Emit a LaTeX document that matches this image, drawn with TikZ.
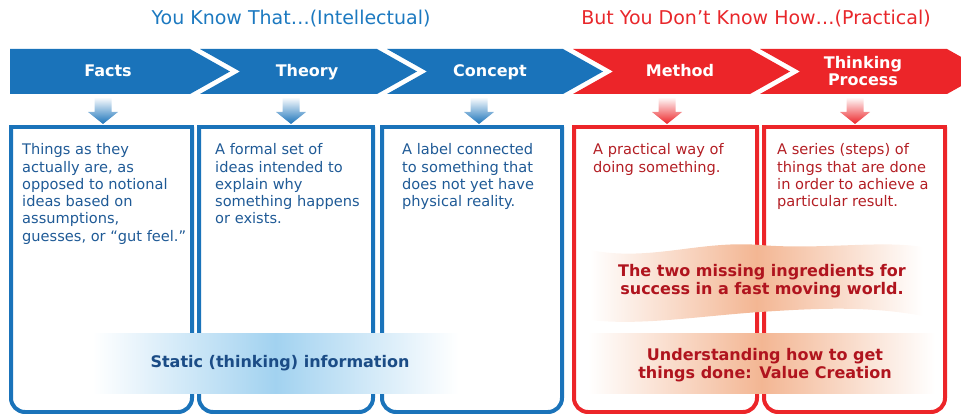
\documentclass[tikz,border=0pt]{standalone}
\usepackage{fontspec}
\setmainfont{DejaVu Sans}
\usetikzlibrary{calc}
\definecolor{chevblue}{HTML}{1A73BA}
\definecolor{chevred}{HTML}{EC2529}
\definecolor{titleblue}{HTML}{1C79C0}
\definecolor{titlered}{HTML}{E8272B}
\definecolor{txtblue}{HTML}{1F5A96}
\definecolor{txtred}{HTML}{B31E24}
\definecolor{bandblue}{HTML}{1B4C86}
\definecolor{bandred}{HTML}{B0141E}
\definecolor{lightblue}{HTML}{A2D2F0}
\definecolor{peach}{HTML}{F3B693}
\begin{document}
\begin{tikzpicture}[x=1pt,y=-1pt,
  title/.style={font=\fontsize{19}{22}\selectfont, anchor=center},
  chevlabel/.style={font=\bfseries\fontsize{16}{17}\selectfont, text=white, align=center, anchor=base},
  bodytext/.style={font=\fontsize{14.6}{17.3}\selectfont, align=left, anchor=north west, inner sep=0pt},
  bandtext/.style={font=\bfseries\fontsize{16}{17.5}\selectfont, align=center, anchor=center}
]
\useasboundingbox (0,0) rectangle (961,414);
\clip (0,0) rectangle (961,414);

\newcommand\boxpath[3]{%
  \draw[draw=#3, line width=4pt, rounded corners=14pt] (#1,127) -- (#1,412) -- (#2,412) -- (#2,127);
  \draw[draw=#3, line width=4pt, line cap=rect] (#1,127) -- (#2,127);
}

% titles
\node[title, text=titleblue] (t1) at (291,19) {You Know That…(Intellectual)};
\node[title, text=titlered] (t2) at (756,19) {But You Don’t Know How…(Practical)};

% chevrons
\fill[chevblue] (10,49) -- (190,49) -- (230,71.5) -- (190,94) -- (10,94) -- cycle;
\fill[chevblue] (200,49) -- (377,49) -- (417,71.5) -- (377,94) -- (200,94) -- (240,71.5) -- cycle;
\fill[chevblue] (387,49) -- (563,49) -- (603,71.5) -- (563,94) -- (387,94) -- (427,71.5) -- cycle;
\fill[chevred] (573,49) -- (750,49) -- (790,71.5) -- (750,94) -- (573,94) -- (613,71.5) -- cycle;
\fill[chevred] (760,49) -- (947,49) -- (987,71.5) -- (947,94) -- (760,94) -- (800,71.5) -- cycle;

\node[chevlabel] (c1) at (108,77) {Facts};
\node[chevlabel] (c2) at (307,77) {Theory};
\node[chevlabel] (c3) at (490,77) {Concept};
\node[chevlabel] (c4) at (680,77) {Method};
\node[chevlabel, anchor=center, font=\bfseries\fontsize{16}{17.5}\selectfont] (c5) at (863,71) {Thinking\\Process};

% down arrows
\foreach \x/\c in {103/chevblue,291/chevblue,479/chevblue,667/chevred,855/chevred}{
  \shade[top color=white, bottom color=\c]
    ($(\x,97)+(-8.5,0)$) -- ++(17,0) -- ++(0,15) -- ++(6.5,0) -- (\x,124) -- ($(\x,112)+(-15,0)$) -- ++(6.5,0) -- cycle;
}

% boxes
\boxpath{11}{192}{chevblue}
\boxpath{199}{373}{chevblue}
\boxpath{382}{562}{chevblue}
\boxpath{574}{757}{chevred}
\boxpath{764}{945}{chevred}

% body texts
\node[bodytext, text=txtblue] (b1) at (22,143.5) {Things as they\\actually are, as\\opposed to notional\\ideas based on\\assumptions,\\guesses, or “gut feel.”};
\node[bodytext, text=txtblue] (b2) at (215,143.5) {A formal set of\\ideas intended to\\explain why\\something happens\\or exists.};
\node[bodytext, text=txtblue] (b3) at (402,143.5) {A label connected\\to something that\\does not yet have\\physical reality.};
\node[bodytext, text=txtred] (b4) at (593,143.5) {A practical way of\\doing something.};
\node[bodytext, text=txtred] (b5) at (777,143.5) {A series (steps) of\\things that are done\\in order to achieve a\\particular result.};

% blue band
\shade[left color=white, right color=white, middle color=lightblue] (93,333) rectangle (458,393);
\node[bandtext, text=bandblue] (s1) at (280,363) {Static (thinking) information};

% red wavy band
\shade[left color=white, right color=white, middle color=peach]
  (590,250) .. controls (650,262) and (700,240) .. (760,245)
  .. controls (820,250) and (880,240) .. (923,247)
  -- (923,316) .. controls (870,306) and (820,308) .. (760,312)
  .. controls (700,316) and (640,326) .. (590,320) -- cycle;
\node[bandtext, text=bandred] (s2) at (762,281) {The two missing ingredients for\\success in a fast moving world.};

\shade[left color=white, right color=white, middle color=peach] (588,333) rectangle (935,393);
\node[bandtext, text=bandred] (s3) at (765,365) {Understanding how to get\\things done: Value Creation};
\end{tikzpicture}
\end{document}
